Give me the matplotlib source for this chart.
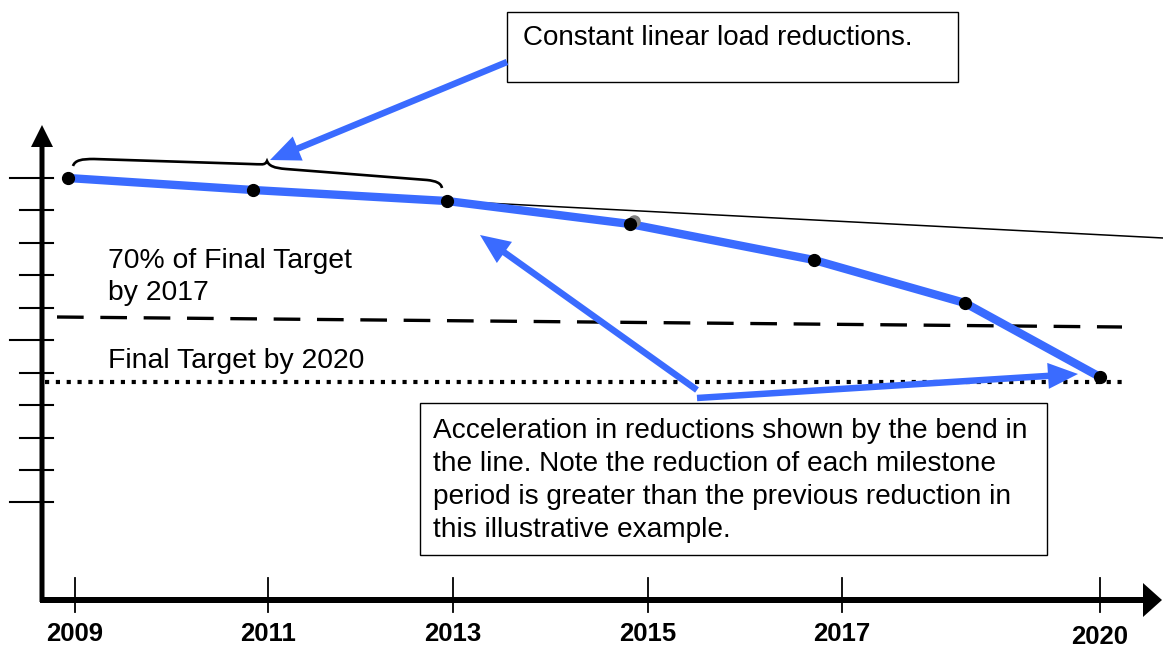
import matplotlib.pyplot as plt
from matplotlib.patches import FancyArrow, Rectangle, PathPatch
from matplotlib.path import Path

# diagram coordinates (horizontal timeline position, vertical load level), y grows downward
year_labels = ['2009', '2011', '2013', '2015', '2017', '2020']
year_pos = [75, 268, 453, 648, 842, 1100]

milestone_x = [68, 253, 447, 630, 814, 965, 1100]
milestone_y = [178, 190, 201, 224, 260, 303, 377]

# continuation of the constant (linear) reduction rate
linear_x = [447, 1163]
linear_y = [201, 238]

interim_x = [57, 1122]   # 70% of final target by 2017
interim_y = [317, 327]
final_x = [45, 1122]     # final target by 2020
final_y = [382, 382]

ytick_pos = [178, 210, 243, 275, 308, 340, 373, 405, 438, 470, 502]
ytick_long = [178, 340, 502]

BLUE = '#3a6bff'

fig = plt.figure(figsize=(11.63, 6.51), dpi=100)
ax = fig.add_axes([0, 0, 1, 1])
ax.set_xlim(0, 1163)
ax.set_ylim(651, 0)
ax.axis('off')

plt.rcParams['font.family'] = ['Liberation Sans', 'DejaVu Sans']

# axes with arrow heads
ax.add_patch(FancyArrow(42, 602, 0, -477, width=5, head_width=22, head_length=22,
                        length_includes_head=True, color='black', lw=0))
ax.add_patch(FancyArrow(40, 600, 1122, 0, width=6, head_width=34, head_length=19,
                        length_includes_head=True, color='black', lw=0))

for y in ytick_pos:
    x0 = 10 if y in ytick_long else 20
    ax.plot([x0, 53], [y, y], color='black', lw=1.5)

for x, lab in zip(year_pos, year_labels):
    ax.plot([x, x], [578, 612], color='black', lw=1.3)
    dy = 637 if lab == '2020' else 634
    ax.text(x, dy, lab, ha='center', va='center', fontsize=18.5, fontweight='bold')

# target lines
ax.plot(interim_x, interim_y, color='black', lw=2.4, dashes=(8, 5), solid_capstyle='butt')
ax.plot(final_x, final_y, color='black', lw=3, dashes=(1, 1.6), dash_capstyle='butt')

ax.text(108, 268, '70% of Final Target', fontsize=20.4, va='baseline')
ax.text(108, 300, 'by 2017', fontsize=20.4, va='baseline')
ax.text(108, 368, 'Final Target by 2020', fontsize=20.4, va='baseline')

# linear projection and milestone path
ax.plot(linear_x, linear_y, color='black', lw=1.1)
ax.plot(milestone_x, milestone_y, color=BLUE, lw=6, solid_capstyle='butt', zorder=3)
ax.plot([634], [221], 'o', color='grey', ms=8, zorder=4)
ax.plot(milestone_x, milestone_y, 'o', color='black', ms=8.5, lw=0, zorder=5)

# curly brace over the constant-rate milestones
verts = [(73, 166), (75, 160), (82, 159), (94, 159),
         (250, 164),
         (260, 164), (265, 166), (267, 161),
         (269, 166), (274, 168), (286, 169),
         (427, 180),
         (436, 181), (441, 183), (442, 188)]
codes = [Path.MOVETO, Path.CURVE4, Path.CURVE4, Path.CURVE4,
         Path.LINETO,
         Path.CURVE4, Path.CURVE4, Path.CURVE4,
         Path.CURVE4, Path.CURVE4, Path.CURVE4,
         Path.LINETO,
         Path.CURVE4, Path.CURVE4, Path.CURVE4]
ax.add_patch(PathPatch(Path(verts, codes), fill=False, lw=1.9, color='black'))

# callout boxes
ax.add_patch(Rectangle((507, 12), 451, 70, fill=False, lw=1, ec='black', zorder=6))
ax.text(523, 45, 'Constant linear load reductions.', fontsize=20, va='baseline', zorder=7)

ax.add_patch(Rectangle((420, 403), 627, 152, fill=False, lw=1, ec='black', zorder=6))
note = ['Acceleration in reductions shown by the bend in',
        'the line. Note the reduction of each milestone',
        'period is greater than the previous reduction in',
        'this illustrative example.']
for i, line in enumerate(note):
    ax.text(433, 438 + 33 * i, line, fontsize=20.2, va='baseline', zorder=7)

# blue pointer arrows
arrows = [((507, 62), (270, 160)), ((697, 390), (480, 235)), ((697, 398), (1078, 374))]
for (x0, y0), (x1, y1) in arrows:
    ax.add_patch(FancyArrow(x0, y0, x1 - x0, y1 - y0, width=6.5, head_width=26,
                            head_length=30, length_includes_head=True,
                            color=BLUE, lw=0, zorder=8))

fig.savefig('out.png', dpi=100)
